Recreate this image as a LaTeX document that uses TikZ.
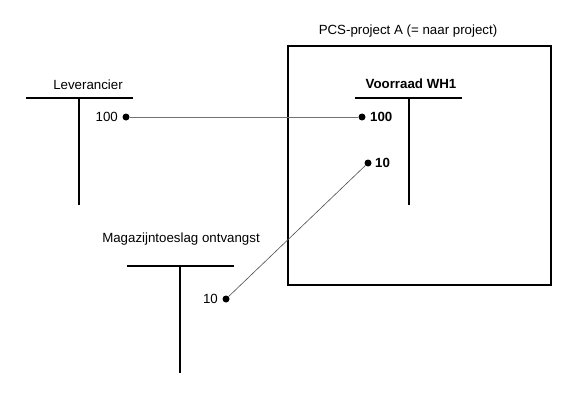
\documentclass[tikz,border=0pt]{standalone}
\usepackage{fontspec}
\setmainfont{Liberation Sans}
\begin{document}
\begin{tikzpicture}[x=1pt,y=-1pt,
  lbl/.style={font=\fontsize{13.3}{15}\selectfont, inner sep=0pt},
  blbl/.style={font=\fontsize{13.3}{15}\selectfont\bfseries, inner sep=0pt},
  tbar/.style={line width=1.8pt},
  tstem/.style={line width=1.5pt},
  dot/.style={circle, fill=black, minimum size=7pt, inner sep=0pt},
  conn/.style={line width=0.8pt, draw=black!55}]
\useasboundingbox (0,0) rectangle (580,412);
% project box
\draw[line width=2.2pt] (288,46) rectangle (551,285);
\node[lbl] (pcs) at (408,31) {PCS-project A (= naar project)};
% Leverancier
\node[lbl] (lev) at (88,85) {Leverancier};
\coordinate (levL) at (26,98);
\coordinate (levR) at (133,98);
\coordinate (levT) at (79,98);
\coordinate (levB) at (79,205);
\draw[tbar] (levL) -- (levR);
\draw[tstem] (levT) -- (levB);
\node[dot] (d1) at (126,117) {};
\node[lbl, anchor=east] (t1) at (118,117) {100};
% Voorraad WH1
\node[blbl] (wh) at (411,84) {Voorraad WH1};
\coordinate (whL) at (355,98);
\coordinate (whR) at (462,98);
\coordinate (whT) at (409,98);
\coordinate (whB) at (409,205);
\draw[tbar] (whL) -- (whR);
\draw[tstem] (whT) -- (whB);
\node[dot] (d2) at (362,117) {};
\node[blbl, anchor=west] (t2) at (370,117) {100};
\node[dot] (d3) at (368,163) {};
\node[blbl, anchor=west] (t3) at (375,163) {10};
% Magazijntoeslag
\node[lbl] (mag) at (181,239) {Magazijntoeslag ontvangst};
\coordinate (magL) at (127,266);
\coordinate (magR) at (234,266);
\coordinate (magT) at (180,266);
\coordinate (magB) at (180,373);
\draw[tbar] (magL) -- (magR);
\draw[tstem] (magT) -- (magB);
\node[dot] (d4) at (226,299) {};
\node[lbl, anchor=east] (t4) at (218,299) {10};
% connectors
\draw[conn] (d1) -- (d2);
\draw[line width=0.6pt, draw=black!70] (d4) -- (d3);
\end{tikzpicture}
\end{document}
